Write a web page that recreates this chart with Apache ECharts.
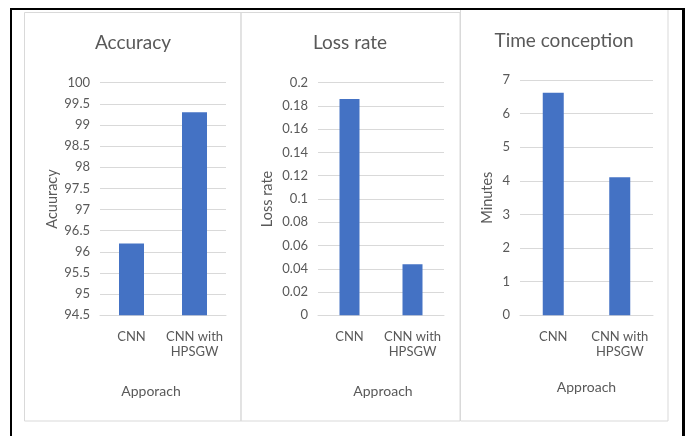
<!DOCTYPE html>
<html>
<head>
<meta charset="utf-8">
<script src="https://cdn.jsdelivr.net/npm/echarts@6/dist/echarts.min.js"></script>
<style>
html,body{margin:0;padding:0;background:#fff;}
#c{width:689px;height:436px;}
</style>
</head>
<body>
<div id="c"></div>
<script>
// Data
const categories = ['CNN', 'CNN with HPSGW'];
const accuracyValues = [96.2, 99.3];
const lossValues = [0.186, 0.044];
const timeValues = [6.62, 4.11];
const titles = ['Accuracy', 'Loss rate', 'Time conception'];
const yNames = ['Acuuracy', 'Loss rate', 'Minutes'];
const xNames = ['Apporach', 'Approach', 'Approach'];

const FONT = 'Lato';
const TXT = '#595959';
const GRID = '#D9D9D9';
const BAR = '#4472C4';

const chart = echarts.init(document.getElementById('c'), null, {renderer: 'canvas'});

const grids = [
  {left: 100, top: 82.7, width: 126, height: 232.6},
  {left: 318, top: 82.7, width: 126, height: 232.6},
  {left: 520, top: 80, width: 133, height: 235.3}
];
const yCfg = [
  {min: 94.5, max: 100, interval: 0.5, gap: 40},
  {min: 0, max: 0.2, interval: 0.02, gap: 43},
  {min: 0, max: 7, interval: 1, gap: 25}
];
const xNameGap = [69, 69, 65];
const xNamePad = [[0, 24, 0, 0], [0, 0, 0, 4], [0, 0, 0, 0]];
const titlePos = [[133, 33], [350, 33], [564, 31]];
const barW = [25, 20, 21];
const seriesData = [accuracyValues, lossValues, timeValues];

const option = {
  animation: false,
  backgroundColor: '#fff',
  textStyle: {fontFamily: FONT},
  graphic: [
    {type: 'rect', shape: {x: 24.5, y: 12.5, width: 216.5, height: 408.5}, style: {fill: 'none', stroke: GRID, lineWidth: 1}},
    {type: 'rect', shape: {x: 241, y: 12.5, width: 219, height: 408.5}, style: {fill: 'none', stroke: GRID, lineWidth: 1}},
    {type: 'rect', shape: {x: 460.5, y: 9.5, width: 207.5, height: 411.5}, style: {fill: 'none', stroke: GRID, lineWidth: 1}},
    {type: 'rect', shape: {x: 10, y: 8, width: 675, height: 2}, style: {fill: '#000'}},
    {type: 'rect', shape: {x: 10, y: 8, width: 2, height: 428}, style: {fill: '#000'}},
    {type: 'rect', shape: {x: 682, y: 8, width: 3, height: 428}, style: {fill: '#000'}}
  ],
  title: titles.map((t, i) => ({
    text: t,
    left: titlePos[i][0],
    top: titlePos[i][1],
    textAlign: 'center',
    padding: 0,
    textStyle: {fontFamily: FONT, fontSize: 19, fontWeight: 'normal', color: TXT}
  })),
  grid: grids,
  xAxis: grids.map((g, i) => ({
    type: 'category',
    gridIndex: i,
    data: categories,
    name: xNames[i],
    nameLocation: 'middle',
    nameGap: xNameGap[i],
    nameTextStyle: {fontFamily: FONT, fontSize: 14, color: TXT, padding: xNamePad[i]},
    axisLine: {show: true, lineStyle: {color: GRID, width: 1}},
    axisTick: {show: false},
    axisLabel: {
      interval: 0,
      margin: 14,
      fontFamily: FONT, fontSize: 13, color: TXT, lineHeight: 15,
      formatter: v => v.replace(' HPSGW', '\nHPSGW')
    }
  })),
  yAxis: grids.map((g, i) => ({
    type: 'value',
    gridIndex: i,
    min: yCfg[i].min,
    max: yCfg[i].max,
    interval: yCfg[i].interval,
    name: yNames[i],
    nameLocation: 'middle',
    nameGap: yCfg[i].gap,
    nameRotate: 90,
    nameTextStyle: {fontFamily: FONT, fontSize: 14.5, color: TXT},
    axisLine: {show: false},
    axisTick: {show: false},
    splitLine: {lineStyle: {color: GRID, width: 1}},
    axisLabel: {
      margin: 10,
      fontFamily: FONT, fontSize: 13, color: TXT,
      formatter: v => String(parseFloat(v.toFixed(4)))
    }
  })),
  series: seriesData.map((d, i) => ({
    type: 'bar',
    xAxisIndex: i,
    yAxisIndex: i,
    data: d,
    barWidth: barW[i],
    itemStyle: {color: BAR},
    silent: true
  }))
};
chart.setOption(option);
</script>
</body>
</html>
